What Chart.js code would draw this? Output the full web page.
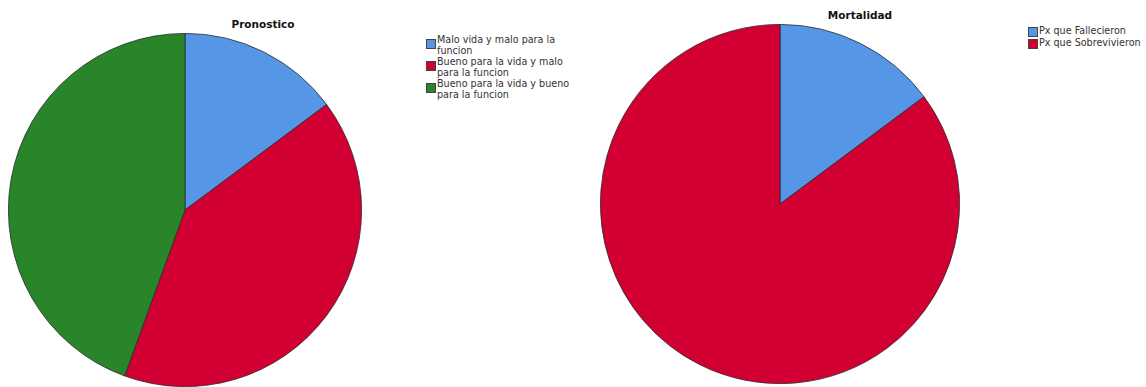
<!DOCTYPE html>
<html>
<head>
<meta charset="utf-8">
<script src="https://cdn.jsdelivr.net/npm/chart.js@4.4.1/dist/chart.umd.min.js"></script>
<style>
  body { margin: 0; background: #fff; font-family: "DejaVu Sans", sans-serif; }
  #wrap { position: relative; width: 1146px; height: 387px; overflow: hidden; }
  canvas { position: absolute; }
  .title { position: absolute; font-weight: bold; font-size: 10.5px; color: #111; transform: translateX(-50%); white-space: nowrap; }
  .legend { position: absolute; font-size: 9.6px; line-height: 10.5px; color: #333; }
  .legend .item { position: relative; padding-left: 11px; margin-bottom: 1px; }
  .legend .box { position: absolute; left: 0; width: 8px; height: 8px; border: 1px solid #444; box-sizing: content-box; }
</style>
</head>
<body>
<div id="wrap">
  <div class="title" id="t1" style="left:263px; top:18px;"></div>
  <canvas id="pie1" width="354" height="354" style="left:8px; top:33px;"></canvas>
  <div class="legend" id="leg1" style="left:426px; top:35px; width:151px;"></div>

  <div class="title" id="t2" style="left:860px; top:9px;"></div>
  <canvas id="pie2" width="360" height="360" style="left:600px; top:24px;"></canvas>
  <div class="legend" id="leg2" style="left:1028px; top:26px; width:118px;"></div>
</div>
<script>
// Pronostico
let pronTitle = 'Pronostico';
let pronLabels = ['Malo vida y malo para la funcion', 'Bueno para la vida y malo para la funcion', 'Bueno para la vida y bueno para la funcion'];
let pronCounts = [4, 11, 12];
let pronColors = ['#5596e6', '#d20032', '#29852a'];

// Mortalidad
let mortTitle = 'Mortalidad';
let mortLabels = ['Px que Fallecieron', 'Px que Sobrevivieron'];
let mortCounts = [4, 23];
let mortColors = ['#5596e6', '#d20032'];

function addPie(id, labels, data, colors){
    return new Chart(document.getElementById(id), {
        type: 'pie',
        data: {
            labels: labels,
            datasets: [{
                data: data,
                backgroundColor: colors,
                borderColor: '#2b2b2b',
                borderWidth: 0.8
            }]
        },
        options: {
            responsive: false,
            animation: false,
            layout: { padding: 0 },
            plugins: {
                legend: { display: false },
                tooltip: { enabled: false }
            }
        }
    });
}

function addLegend(id, chart){
    /* builds the side legend from the chart's own labels and colours */
    let el = document.getElementById(id);
    let ds = chart.data.datasets[0];
    chart.data.labels.forEach(function(label, i){
        let item = document.createElement('div');
        item.className = 'item';
        let box = document.createElement('span');
        box.className = 'box';
        box.style.background = ds.backgroundColor[i];
        box.style.top = (label.length > 22 ? 4 : 1) + 'px';
        item.appendChild(box);
        item.appendChild(document.createTextNode(label));
        el.appendChild(item);
    });
}

document.getElementById('t1').textContent = pronTitle;
document.getElementById('t2').textContent = mortTitle;

let chart1 = addPie('pie1', pronLabels, pronCounts, pronColors);
let chart2 = addPie('pie2', mortLabels, mortCounts, mortColors);
addLegend('leg1', chart1);
addLegend('leg2', chart2);
</script>
</body>
</html>
